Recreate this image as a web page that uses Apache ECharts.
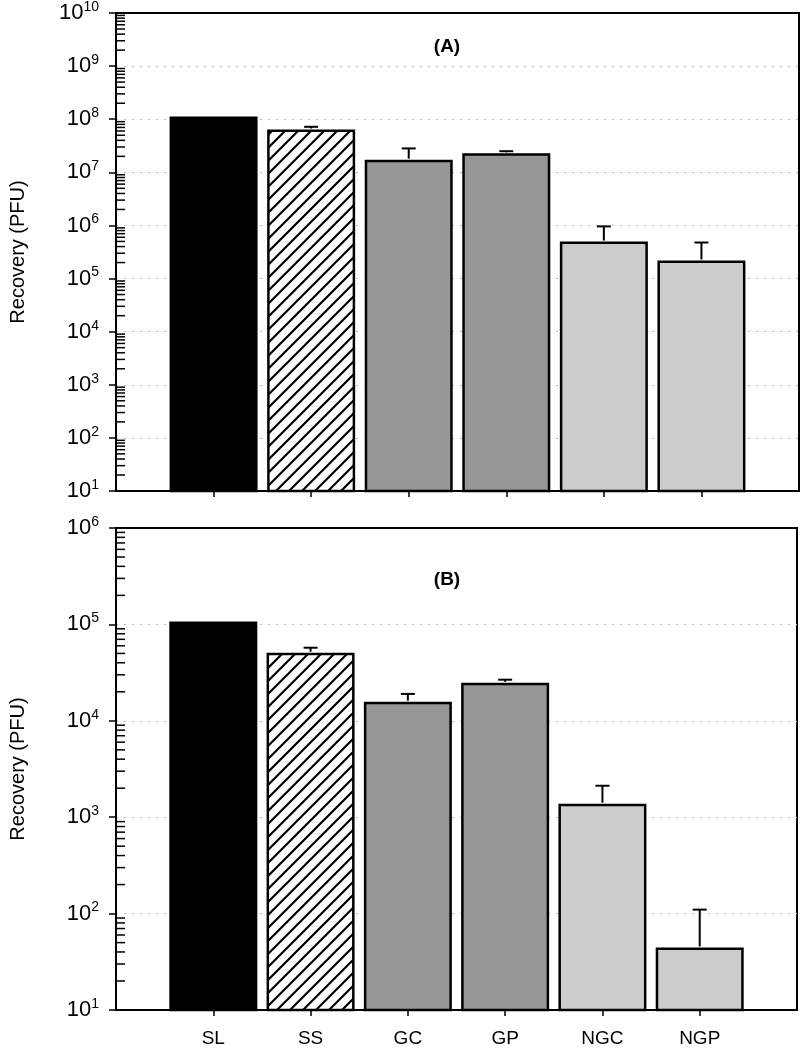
<!DOCTYPE html>
<html><head><meta charset="utf-8">
<script src="https://cdn.jsdelivr.net/npm/echarts@6/dist/echarts.min.js"></script>
<style>html,body{margin:0;padding:0;background:#fff}#c{width:800px;height:1048px}</style>
</head><body><div id="c"></div>
<script>
// ---- data ----
const categories = ['SL', 'SS', 'GC', 'GP', 'NGC', 'NGP'];
const valuesA = [1.13e8, 6.4e7, 1.73e7, 2.28e7, 4.98e5, 2.19e5];
const errTopA = [null, 7.2e7, 2.82e7, 2.5e7, 9.6e5, 4.77e5];
const valuesB = [1.07e5, 5.08e4, 1.58e4, 2.48e4, 1380, 44.6];
const errTopB = [null, 5.73e4, 1.9e4, 2.67e4, 2120, 110];
const panelTitles = ['(A)', '(B)'];
const yMin = 10, yMaxA = 1e10, yMaxB = 1e6;
const minorMultipliers = [2, 3, 4, 5, 6, 7, 8, 9];
const fills = ['#000000', 'hatch', '#969696', '#969696', '#cccccc', '#cccccc'];

const FONT = 'Liberation Sans, Arial, sans-serif';

function hatchPattern() {
  const s = 13;
  const c = document.createElement('canvas');
  c.width = s; c.height = s;
  const g = c.getContext('2d');
  g.fillStyle = '#fff'; g.fillRect(0, 0, s, s);
  g.strokeStyle = '#000'; g.lineWidth = 2.2;
  g.beginPath();
  g.moveTo(-2, 2); g.lineTo(2, -2);
  g.moveTo(0, s); g.lineTo(s, 0);
  g.moveTo(s - 2, s + 2); g.lineTo(s + 2, s - 2);
  g.stroke();
  return { image: c, repeat: 'repeat' };
}
const hatch = hatchPattern();

const xData = [''].concat(categories).concat(['']);

function barData(vals) {
  return ['-'].concat(vals.map((v, i) => ({
    value: v,
    itemStyle: { color: fills[i] === 'hatch' ? hatch : fills[i], borderColor: '#000', borderWidth: 2.5 }
  }))).concat(['-']);
}
function errData(vals, tops) {
  const out = [];
  vals.forEach((v, i) => { if (tops[i] != null) out.push([i + 1, v, tops[i]]); });
  return out;
}
function minorData(maxV) {
  const out = [];
  for (let d = yMin; d < maxV; d *= 10) minorMultipliers.forEach(m => out.push([0, m * d]));
  return out;
}

function yAxis(idx, maxV) {
  return {
    type: 'log', logBase: 10, gridIndex: idx, min: yMin, max: maxV,
    name: 'Recovery (PFU)', nameLocation: 'middle', nameGap: 88,
    nameTextStyle: { fontSize: 20, fontFamily: FONT, color: '#000' },
    axisLine: { show: true, lineStyle: { color: '#000', width: 2 } },
    axisTick: { show: true, length: 7, lineStyle: { color: '#000', width: 1.5 } },
    minorTick: { show: false },
    splitLine: { show: true, showMinLine: false, showMaxLine: false, lineStyle: { color: '#bbbbbb', type: [2, 6], width: 1 } },
    axisLabel: {
      margin: 17, color: '#000',
      formatter: v => '{a|10}{b|' + Math.round(Math.log10(v)) + '}',
      rich: {
        a: { fontSize: 22, fontFamily: FONT, color: '#000' },
        b: { fontSize: 14, fontFamily: FONT, color: '#000', padding: [0, 0, 12, 0] }
      }
    }
  };
}
function xAxis(idx, showLabels) {
  return {
    type: 'category', gridIndex: idx, data: xData, boundaryGap: false,
    axisLine: { show: true, lineStyle: { color: '#000', width: 2 } },
    axisTick: { show: true, length: 6, interval: (i) => i > 0 && i < xData.length - 1, lineStyle: { color: '#000', width: 1.5 } },
    axisLabel: { show: showLabels, interval: 0, margin: 19, fontSize: 19, fontFamily: FONT, color: '#000' },
    splitLine: { show: false }
  };
}

function errSeries(idx, vals, tops) {
  return {
    type: 'custom', xAxisIndex: idx, yAxisIndex: idx, z: 5, clip: false,
    data: errData(vals, tops),
    renderItem: (params, api) => {
      const b = api.coord([api.value(0), api.value(1)]);
      const t = api.coord([api.value(0), api.value(2)]);
      return { type: 'group', children: [
        { type: 'line', shape: { x1: b[0], y1: b[1] - 1, x2: t[0], y2: t[1] }, style: { stroke: '#000', lineWidth: 2 } },
        { type: 'line', shape: { x1: t[0] - 7, y1: t[1], x2: t[0] + 7, y2: t[1] }, style: { stroke: '#000', lineWidth: 2 } }
      ] };
    }
  };
}
function minorSeries(idx, maxV) {
  return {
    type: 'custom', xAxisIndex: idx, yAxisIndex: idx, z: 6, clip: false, silent: true,
    data: minorData(maxV),
    renderItem: (params, api) => {
      const p = api.coord([api.value(0), api.value(1)]);
      return { type: 'line', shape: { x1: p[0], y1: p[1], x2: p[0] + 9, y2: p[1] }, style: { stroke: '#000', lineWidth: 1.5 } };
    }
  };
}

const chart = echarts.init(document.getElementById('c'), null, { renderer: 'canvas' });
chart.setOption({
  animation: false,
  backgroundColor: '#fff',
  title: [
    { text: panelTitles[0], left: 442, top: 32, textAlign: 'center', textStyle: { fontSize: 19, fontWeight: 'bold', fontFamily: FONT, color: '#000' } },
    { text: panelTitles[1], left: 442, top: 565, textAlign: 'center', textStyle: { fontSize: 19, fontWeight: 'bold', fontFamily: FONT, color: '#000' } }
  ],
  grid: [
    { left: 115, right: 1, top: 10, height: 481, show: true, borderColor: '#000', borderWidth: 2, backgroundColor: 'transparent' },
    { left: 115, right: 1, top: 528, height: 483, show: true, borderColor: '#000', borderWidth: 2, backgroundColor: 'transparent' }
  ],
  xAxis: [xAxis(0, false), xAxis(1, true)],
  yAxis: [yAxis(0, yMaxA), yAxis(1, yMaxB)],
  series: [
    { type: 'bar', xAxisIndex: 0, yAxisIndex: 0, barWidth: 88, data: barData(valuesA) },
    { type: 'bar', xAxisIndex: 1, yAxisIndex: 1, barWidth: 88, data: barData(valuesB) },
    errSeries(0, valuesA, errTopA),
    errSeries(1, valuesB, errTopB),
    minorSeries(0, yMaxA),
    minorSeries(1, yMaxB)
  ]
});
</script></body></html>
